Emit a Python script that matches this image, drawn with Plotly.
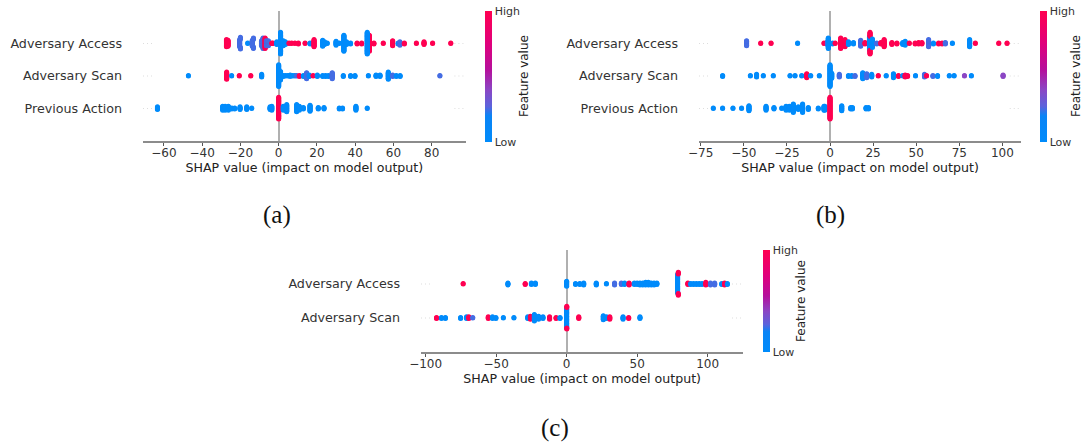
import numpy as np
import plotly.graph_objects as go

# Feature value colours: 0 low, 0.25 blue-violet, 0.4 purple, 1 high
a_access_x = [-27.3,-26.5,-20.4,-20,-16.2,-13.8,-13.2,-9,-8.2,-7.1,-6.4,-5.4,-3.6,-3,-1,1,2.4,3.5,5.4,6.8,8.5,10.3,13.8,16.4,18.5,23,24,25.4,30,31.7,34.1,35.5,37.6,41,43.4,47.4,46.3,49.8,54.7,59.6,62.5,63.4,65.7,72,76,80.5,90]
a_access_n = [14,12,14,8,2,12,8,10,10,20,10,10,2,2,6,40,10,6,2,2,2,3,2,3,14,12,6,2,8,2,30,6,3,3,3,30,40,3,2,10,3,4,3,2,6,2,2]
a_access_c = [1,1,.25,.25,0,.25,.25,.25,.25,1,.25,.25,1,1,0,0,0,0,1,1,1,1,1,0,1,0,0,0,0,0,0,0,0,1,1,1,0,1,1,1,0,.25,1,1,1,1,1]
a_scan_x = [-47.2,-27.2,-24.6,-20.6,-14.6,-8.9,0,1,2.4,3.6,4.8,6,7.2,8.4,9.4,10.8,12.9,14.6,16,18,20.2,23,24.5,26,28,33.8,37.6,39.9,46.9,50.9,53,57.3,59.6,61.5,63.5,84.3]
a_scan_n = [2,14,2,2,2,6,40,16,3,2,2,2,2,2,2,3,3,12,4,2,4,3,3,3,12,3,3,3,2,4,4,14,4,3,3,2]
a_scan_c = [0,1,0,1,1,0,0,0,0,0,0,0,0,0,.25,1,0,.25,0,1,0,0,0,0,.25,0,0,0,0,0,0,0,.25,0,0,.25]
a_prev_x = [-63.4,-29.3,-28,-26.3,-24.5,-23,-20.2,-16.7,-14.1,-4.5,-3.6,0,2.4,4.2,9.4,10.8,12.9,16.4,20.7,23.7,31.7,33.4,40.4,46.3]
a_prev_n = [6,8,8,8,3,3,6,6,2,6,8,40,8,14,14,8,4,12,4,4,3,3,8,2]
a_prev_c = [0]*11 + [1] + [0]*12

b_access_x = [-48.4,-40.2,-34.2,-18.8,-3.5,-1.5,-1,1.5,3,6.2,8.7,10.7,13.6,17.8,20.3,22.9,23.2,24.6,27.1,29.5,31.4,35.9,38.8,42.2,43.6,46,49.4,51.4,53.3,57.2,60,63,65,66.9,71,81,84.3,97.9,102.7]
b_access_n = [10,2,2,2,2,6,14,3,2,20,14,6,4,12,4,24,16,16,3,4,14,5,3,5,8,2,3,4,4,14,3,3,3,4,2,14,2,2,2]
b_access_c = [.25,1,1,0,1,.25,0,0,1,1,1,0,0,.25,1,0,1,0,.25,1,1,1,1,0,0,1,1,1,1,.25,0,1,1,.25,0,0,1,1,1]
b_scan_x = [-62.3,-46.2,-42.6,-38.7,-32.9,-23.2,-20.3,-16.4,-13.5,-11.2,-6.2,0,1,5.4,10.7,12.6,14.5,19,21.3,24.2,28,32.6,36.8,39.7,42.2,43.6,45,49.6,54.8,56,59.7,62.4,69.2,72,78,82,100.4]
b_scan_n = [3,2,6,2,2,2,2,2,8,2,2,40,10,6,3,3,3,12,8,6,2,2,8,3,2,5,3,2,6,2,3,3,2,2,2,2,4]
b_scan_c = [0,0,0,0,0,0,0,0,1,0,0,0,0,.25,0,0,.25,0,.25,0,1,0,0,1,0,1,1,0,.25,1,.25,0,0,0,.4,0,.4]
b_prev_x = [-67.7,-62.3,-56.3,-51.3,-47,-37.1,-32.5,-28,-25.5,-23.6,-21.3,-18.4,-15.9,-12.6,-6.8,-3.5,-3,0,6.8,12,13,20.9,22.3]
b_prev_n = [2,2,2,2,10,8,4,2,8,8,16,6,16,5,3,8,8,40,10,4,4,4,4]
b_prev_c = [0]*17 + [1] + [0]*5

c_access_x = [-73.4,-41.6,-29.4,-25,-22.2,0,6.3,9.3,12.1,21,28.2,34,38.8,41.1,44.3,48,50,52,54,56,58,60,62,64,78.7,79.2,86,88,90,92,94,96,98.7,102,105,110,112,114]
c_access_n = [2,5,3,4,4,10,3,3,5,5,2,5,4,4,5,4,4,5,5,6,6,5,5,4,34,8,4,3,3,3,3,3,6,5,5,3,5,3]
c_access_c = [1,0,1,0,0,0,0,0,0,0,0,.25,.25,0,1,0,0,0,0,0,0,0,0,0,0,1,1,0,0,0,0,0,1,.25,.25,0,1,0]
c_scan_x = [-92.3,-88.8,-86,-75.2,-71,-69.4,-66.6,-55.6,-52.6,-50.2,-44.9,-37.4,-27.6,-25.7,-22.9,-19.9,-16.8,-12.1,-7.5,-4.7,0,0.1,8.6,26,28.3,30.6,40,44,52]
c_scan_n = [3,3,3,3,4,4,2,4,4,3,2,2,4,6,12,6,4,5,3,3,34,6,4,8,4,5,5,3,4]
c_scan_c = [1,0,0,0,0,1,.25,1,0,0,0,0,0,1,0,0,0,1,1,0,0,1,1,0,0,1,0,1,0]

row_labels_3 = ["Previous Action", "Adversary Scan", "Adversary Access"]
row_labels_2 = ["Adversary Scan", "Adversary Access"]
a_ticks = [-60, -40, -20, 0, 20, 40, 60, 80]
b_ticks = [-75, -50, -25, 0, 25, 50, 75, 100]
c_ticks = [-100, -50, 0, 50, 100]
captions = ["(a)", "(b)", "(c)"]

W, H = 1083, 443
FONT = "DejaVu Sans"
COLORSCALE = [[0, "#008bfb"], [0.2, "#0a84f5"], [0.27, "#5b63dc"], [0.4, "#8b46c4"],
              [0.55, "#b5109c"], [0.75, "#e0007c"], [1, "#ff0051"]]


def swarm(x, n, c, row):
    """Stack repeated readings into a bee-swarm the way a SHAP summary plot does."""
    xs = np.repeat(np.array(x, float), n)
    cs = np.repeat(np.array(c, float), n)
    q = np.round(100 * (xs - xs.min()) / (xs.max() - xs.min()))
    order = np.argsort(q, kind="stable")
    ys = np.zeros(len(xs))
    layer, last = 0, None
    for i in order:
        if q[i] != last:
            layer = 0
        ys[i] = np.ceil(layer / 2) * (layer % 2 * 2 - 1)
        layer += 1
        last = q[i]
    ys *= 0.9 * (0.4 / np.max(ys + 1))
    return xs, row + ys, cs


panels = [
    dict(rows=[(a_prev_x, a_prev_n, a_prev_c), (a_scan_x, a_scan_n, a_scan_c), (a_access_x, a_access_n, a_access_c)],
         labels=row_labels_3, ticks=a_ticks, xpx=(143, 465.7), ypx=(11, 141), xr=(-70.95, 97.8),
         cb=(485, 11, 142), cap=(277, 215), fv=(524, 76)),
    dict(rows=[(b_prev_x, b_prev_n, b_prev_c), (b_scan_x, b_scan_n, b_scan_c), (b_access_x, b_access_n, b_access_c)],
         labels=row_labels_3, ticks=b_ticks, xpx=(699, 1021), ypx=(11, 141), xr=(-76, 110.8),
         cb=(1040, 11, 142), cap=(830, 215), fv=(1076, 76)),
    dict(rows=[(c_scan_x, c_scan_n, c_scan_c), (c_access_x, c_access_n, c_access_c)],
         labels=row_labels_2, ticks=c_ticks, xpx=(421, 743.3), ypx=(250, 352), xr=(-103.3, 125.3),
         cb=(763, 250, 352), cap=(555, 428), fv=(801, 301)),
]

fig = go.Figure()
layout = dict(width=W, height=H, margin=dict(l=0, r=0, t=0, b=0, autoexpand=False), paper_bgcolor="white",
              plot_bgcolor="white", showlegend=False, font=dict(family=FONT, color="#333333"))
annotations = []
shapes = []
for k, p in enumerate(panels):
    s = "" if k == 0 else str(k + 1)
    nrows = len(p["rows"])
    span = p["xr"][1] - p["xr"][0]
    for r, (x, n, c) in enumerate(p["rows"]):
        xs, ys, cs = swarm(x, n, c, r)
        fig.add_trace(go.Scatter(x=xs, y=ys, mode="markers", xaxis="x" + s, yaxis="y" + s,
                                 marker=dict(size=5, color=cs, coloraxis="coloraxis" + s, line=dict(width=0))))
        for x0, x1 in [(p["xr"][0], p["xr"][0] + 0.035 * span), (p["xr"][1] - 0.035 * span, p["xr"][1])]:
            shapes.append(dict(type="line", xref="x" + s, yref="y" + s, x0=x0, x1=x1, y0=r, y1=r, layer="below",
                               line=dict(color="#dddddd", width=1, dash="1px,3px")))
    layout["xaxis" + s] = dict(domain=[p["xpx"][0] / W, p["xpx"][1] / W], range=list(p["xr"]),
                               anchor="y" + s, tickmode="array", tickvals=p["ticks"],
                               ticks="outside", ticklen=3, tickwidth=1, tickcolor="#555555",
                               showline=True, linecolor="#8c8c8c", linewidth=1.5, showgrid=False,
                               zeroline=True, zerolinecolor="#b0b0b0", zerolinewidth=2,
                               tickfont=dict(size=12, color="#333333"), ticklabelstandoff=-3,
                               title=dict(text="SHAP value (impact on model output)",
                                          font=dict(size=12.6, color="#222222"), standoff=0))
    layout["yaxis" + s] = dict(domain=[1 - p["ypx"][1] / H, 1 - p["ypx"][0] / H], range=[-1, nrows],
                               anchor="x" + s, tickmode="array", tickvals=list(range(nrows)),
                               ticktext=p["labels"], ticks="", showline=False, zeroline=False,
                               showgrid=False,
                               tickfont=dict(size=12.7, color="#333333"), ticklabelstandoff=20)
    cbx, cbt, cbb = p["cb"]
    layout["coloraxis" + s] = dict(cmin=0, cmax=1, colorscale=COLORSCALE, colorbar=dict(
        x=cbx / W, xanchor="left", y=1 - cbb / H, yanchor="bottom", len=(cbb - cbt) / H,
        lenmode="fraction", thickness=7, thicknessmode="pixels", outlinewidth=0, ticks="",
        xpad=0, ypad=0, tickmode="array", tickvals=[0, 1], ticktext=["Low", "High"],
        ticklabelposition="outside", tickfont=dict(size=11, color="#333333")))
    annotations.append(dict(text="Feature value", x=p["fv"][0] / W, y=1 - p["fv"][1] / H, xref="paper", yref="paper",
                            showarrow=False, textangle=-90, xanchor="center", yanchor="middle",
                            font=dict(size=12, color="#222222")))
    annotations.append(dict(text=captions[k], x=p["cap"][0] / W, y=1 - p["cap"][1] / H, xref="paper", yref="paper",
                            showarrow=False, xanchor="center", yanchor="middle",
                            font=dict(family="Liberation Serif", size=25, color="#111111")))
layout["annotations"] = annotations
layout["shapes"] = shapes
fig.update_layout(**layout)
fig.write_html("out.html", post_script="document.body.style.margin='0';", config={"displayModeBar": False})
